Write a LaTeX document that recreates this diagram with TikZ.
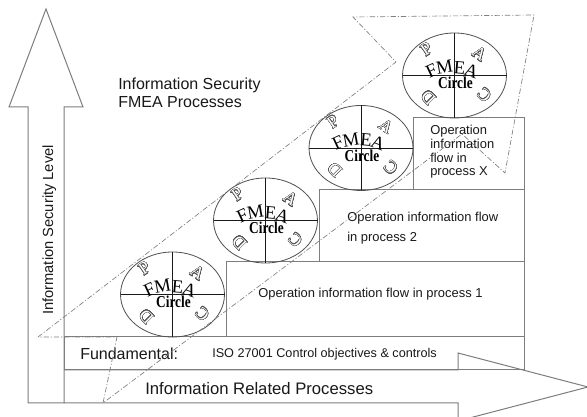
\documentclass[tikz,border=0pt]{standalone}
\usepackage{fontspec}
\setmainfont{Liberation Sans}
\newfontfamily\serifletters{Liberation Serif}
\usepackage{contour}
\contourlength{0.3pt}
\contournumber{24}

\definecolor{edgegray}{RGB}{125,125,125}
\definecolor{ringgray}{RGB}{80,80,80}
\definecolor{inkgray}{RGB}{25,25,25}

\tikzset{
  outline/.style={draw=edgegray, line width=0.75pt},
  ring/.style={draw=ringgray, line width=0.6pt},
  quarter/.style={draw=inkgray, line width=0.6pt},
  flowarrow/.style={draw=gray, line width=0.5pt,
    dash pattern=on 4pt off 1.5pt on 0.8pt off 1.5pt},
  label/.style={inner sep=0pt, anchor=base west, text=inkgray},
  big/.style={label, font=\fontsize{12}{14}\selectfont},
  small/.style={label, font=\fontsize{9.7}{11}\selectfont},
  fmeaL/.style={inner sep=0pt, text=black, font=\serifletters\fontsize{14}{15}\selectfont},
  pdcaL/.style={inner sep=0pt, font=\serifletters\fontsize{13}{14}\selectfont},
}

% one FMEA circle: name, centre x, centre y
\newcommand\fmeaunit[3]{%
  \begin{scope}[shift={(#2,#3)}]
    \draw[ring] (0,0) ellipse [x radius=39pt, y radius=31.9pt];
    \draw[quarter] (-52,0) -- (52,0) (0,-42.5) -- (0,42.5);
    \node[fmeaL, rotate=25]  (#1-F) at (-23,-5) {F};
    \node[fmeaL, rotate=10]  (#1-M) at (-10,-8) {M};
    \node[fmeaL, rotate=-5]  (#1-E) at (5,-8) {E};
    \node[fmeaL, rotate=-20] (#1-A) at (17,-4.5) {A};
    \node[fmeaL, font=\serifletters\bfseries\fontsize{12.5}{14}\selectfont]
      (#1-word) at (1,7.5) {\scalebox{0.8}[1]{Circle}};
    \node[pdcaL, rotate=35]  (#1-p) at (-28,-26) {\contour{ringgray}{\textcolor{white}{P}}};
    \node[pdcaL, rotate=-35] (#1-a) at (25,-21.5) {\contour{ringgray}{\textcolor{white}{A}}};
    \node[pdcaL, rotate=135] (#1-c) at (30,19.5) {\contour{ringgray}{\textcolor{white}{C}}};
    \node[pdcaL, rotate=135] (#1-d) at (-26,22) {\contour{ringgray}{\textcolor{white}{D}}};
  \end{scope}}

\begin{document}
\begin{tikzpicture}[x=0.75pt,y=-0.75pt]
\fill[white] (0,0) rectangle (587,417);
\useasboundingbox (0,0) rectangle (587,417);

% the two axis arrows
\draw[outline] (28,403) -- (28,107) -- (9,107) -- (46,9) -- (83,107)
  -- (64,107) -- (64,403) -- cycle;
\draw[outline] (64,370) -- (458,370) -- (458,353) -- (588,387)
  -- (458,421) -- (458,403) -- (64,403);

% staircase of process levels
\draw[outline] (64,337) rectangle (524,370);
\draw[outline] (226,262) rectangle (524,337);
\draw[outline] (319,190) rectangle (524,262);
\draw[outline] (413,118) rectangle (524,190);

% labels
\node[big] (title1) at (118,90) {Information Security};
\node[big] (title2) at (118,108) {FMEA Processes};
\node[label, font=\fontsize{11}{13}\selectfont, rotate=90] (vlabel) at (53,315)
  {Information Security Level};
\node[big] (fund) at (80,360) {Fundamental:};
\node[label, font=\fontsize{9.5}{11}\selectfont] (iso) at (212,358)
  {ISO 27001 Control objectives \& controls};
\node[label, font=\fontsize{12.5}{14}\selectfont] (hlabel) at (145,395)
  {Information Related Processes};
\node[small] (p1) at (258,298) {Operation information flow in process 1};
\node[small] (p2a) at (347,222) {Operation information flow};
\node[small] (p2b) at (347,242) {in process 2};
\node[small] (pxa) at (430,135) {Operation};
\node[small] (pxb) at (430,149) {information};
\node[small] (pxc) at (430,163) {flow in};
\node[small] (pxd) at (430,176) {process X};

% FMEA circles on each step
\fmeaunit{c1}{172.5}{294.5}
\fmeaunit{c2}{265.5}{220.5}
\fmeaunit{c3}{361}{148}
\fmeaunit{c4}{454.5}{75.5}

% rising dash-dot arrow
\coordinate (t1) at (38,337);
\coordinate (t2) at (117,337);
\coordinate (t3) at (103,403);
\coordinate (n1) at (396,62);
\coordinate (h1) at (353,17);
\coordinate (tip) at (534,15);
\coordinate (h2) at (505,173);
\coordinate (n2) at (462,134);
\draw[flowarrow] (t1) -- (n1) -- (h1) -- (tip) -- (h2) -- (n2) -- (t3) -- (t2) -- cycle;
\end{tikzpicture}
\end{document}
